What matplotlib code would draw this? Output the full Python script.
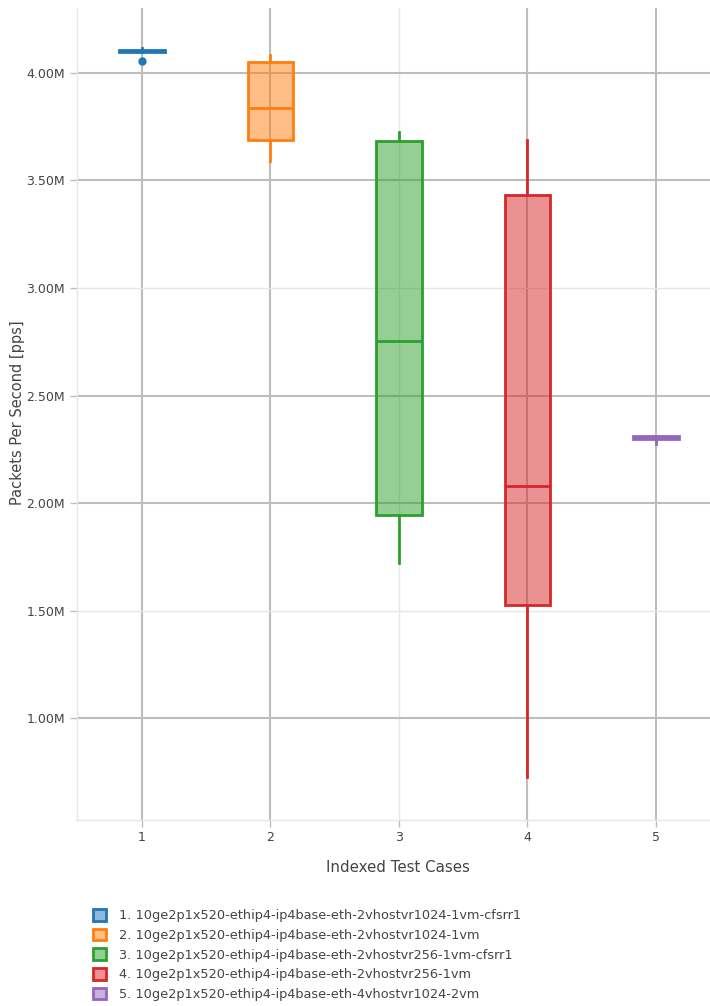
import matplotlib
matplotlib.use("Agg")
import matplotlib.pyplot as plt
from matplotlib.patches import Patch
from matplotlib.ticker import FuncFormatter

plt.rcParams['font.family'] = ['DejaVu Sans']

labels = [
    "1. 10ge2p1x520-ethip4-ip4base-eth-2vhostvr1024-1vm-cfsrr1",
    "2. 10ge2p1x520-ethip4-ip4base-eth-2vhostvr1024-1vm",
    "3. 10ge2p1x520-ethip4-ip4base-eth-2vhostvr256-1vm-cfsrr1",
    "4. 10ge2p1x520-ethip4-ip4base-eth-2vhostvr256-1vm",
    "5. 10ge2p1x520-ethip4-ip4base-eth-4vhostvr1024-2vm",
]
positions = [1, 2, 3, 4, 5]
colors = ["#1f77b4", "#ff7f0e", "#2ca02c", "#d62728", "#9467bd"]
# values in Mpps
whislo = [4.100, 3.592, 1.721, 0.726, 2.273]
q1 = [4.096, 3.687, 1.944, 1.526, 2.296]
med = [4.102, 3.839, 2.753, 2.079, 2.304]
q3 = [4.106, 4.050, 3.684, 3.433, 2.312]
whishi = [4.116, 4.084, 3.726, 3.688, 2.312]
fliers = [[4.056], [], [], [], []]

yticks = [1.0, 1.5, 2.0, 2.5, 3.0, 3.5, 4.0]
text_color = "#444444"

fig = plt.figure(figsize=(7.10, 10.06), dpi=100)
ax = fig.add_axes([77/710, 186/1006, 633/710, 812/1006])

ax.set_xlim(0.495, 5.42)
ax.set_ylim(0.526, 4.302)

# grid (mimic uneven grid rendering)
dark_x = {1, 2, 4, 5}
for p in positions:
    ax.axvline(p, color="#bdbdbd" if p in dark_x else "#e6e6e6",
               lw=1.5 if p in dark_x else 1.0, zorder=0)
light_y = {3.0, 1.5}
for t in yticks:
    ax.axhline(t, color="#e6e6e6" if t in light_y else "#bdbdbd",
               lw=1.0 if t in light_y else 1.5, zorder=0)

stats = []
for i in range(5):
    stats.append(dict(med=med[i], q1=q1[i], q3=q3[i], whislo=whislo[i],
                      whishi=whishi[i], fliers=fliers[i]))

for i, st in enumerate(stats):
    c = colors[i]
    ax.bxp([st], positions=[positions[i]], widths=0.355, patch_artist=True,
           showcaps=False, manage_ticks=False,
           boxprops=dict(facecolor=matplotlib.colors.to_rgba(c, 0.5), edgecolor=c, linewidth=2),
           medianprops=dict(color=c, linewidth=2),
           whiskerprops=dict(color=c, linewidth=2),
           flierprops=dict(marker='o', markerfacecolor=c, markeredgecolor=c, markersize=5))

ax.set_xticks(positions)
ax.set_xticklabels([str(p) for p in positions])
ax.set_yticks(yticks)
ax.yaxis.set_major_formatter(FuncFormatter(lambda v, p: f"{v:.2f}M"))
ax.tick_params(axis='both', colors="#bdbdbd", labelcolor=text_color, labelsize=9,
               length=5, width=1)
ax.tick_params(axis='x', pad=3)
for s in ["top", "right"]:
    ax.spines[s].set_visible(False)
for s in ["left", "bottom"]:
    ax.spines[s].set_color("#e6e6e6")
    ax.spines[s].set_linewidth(1)

ax.set_xlabel("Indexed Test Cases", color=text_color, fontsize=10.8)
ax.xaxis.set_label_coords((398 - 77) / 633, -(868 - 820) / 812)
ax.xaxis.label.set_va("center")
ax.set_ylabel("Packets Per Second [pps]", color=text_color, fontsize=10.5)
ax.yaxis.set_label_coords(-(77 - 18) / 633, (820 - 413) / 812)
ax.yaxis.label.set_va("center")

handles = [Patch(facecolor=matplotlib.colors.to_rgba(c, 0.5), edgecolor=c, linewidth=2)
           for c in colors]
leg = fig.legend(handles, labels, loc="upper left", bbox_to_anchor=(88/710, 1 - 904/1006),
                 frameon=False, fontsize=9.3, handlelength=1.0, handleheight=1.0,
                 handletextpad=1.0, labelspacing=0.5, borderaxespad=0)
for t in leg.get_texts():
    t.set_color(text_color)

fig.savefig("out.png", dpi=100)
